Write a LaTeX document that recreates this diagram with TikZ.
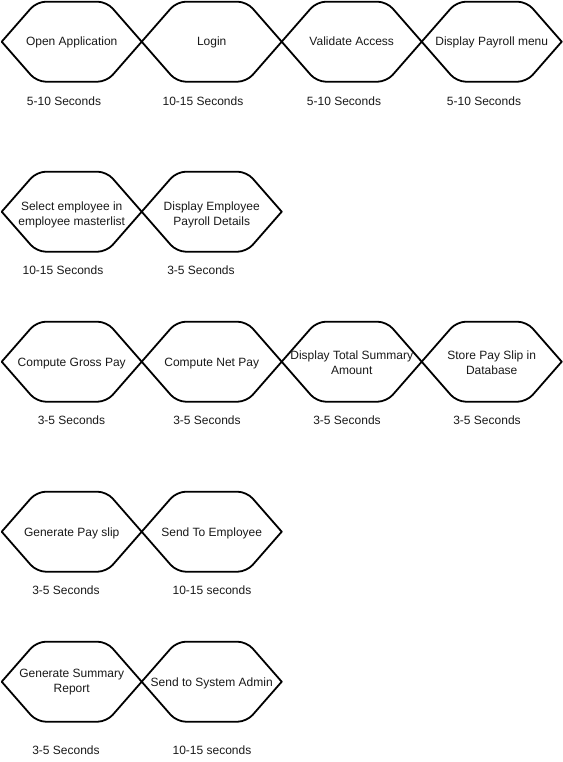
\documentclass[tikz,border=0pt]{standalone}
\usepackage{fontspec}
\setmainfont{Liberation Sans}

% Hexagonal process step: name, centre x, centre y (140 x 80 box)
\newcommand\hexstep[3]{%
  \coordinate (#1) at (#2,#3);
  \draw[hexline] (#2-70,#3) -- (#2-35,#3-40) -- (#2+35,#3-40) -- (#2+70,#3);
  \draw[hexline] (#2-70,#3) -- (#2-35,#3+40) -- (#2+35,#3+40) -- (#2+70,#3);
}

\begin{document}
\begin{tikzpicture}[x=1pt,y=-1pt,
  hexline/.style={draw=black, line width=1.8pt, rounded corners=9pt, line cap=round},
  steptext/.style={font=\fontsize{12}{15}\selectfont, text=black!90, align=center, inner sep=0pt},
  oneline/.style={steptext, anchor=base},
  timelabel/.style={font=\fontsize{12}{15}\selectfont, text=black!90, inner sep=0pt, anchor=base}]
\useasboundingbox (0,0) rectangle (562,762);

% Row 1
\hexstep{h11}{71.7}{41.7}
\hexstep{h12}{211.7}{41.7}
\hexstep{h13}{351.7}{41.7}
\hexstep{h14}{491.7}{41.7}
\node[oneline] (t11) at (71.7,46) {Open Application};
\node[oneline] (t12) at (211.7,46) {Login};
\node[oneline] (t13) at (351.7,46) {Validate Access};
\node[oneline] (t14) at (491.7,46) {Display Payroll menu};
\node[timelabel] (l11) at (64,106) {5-10 Seconds};
\node[timelabel] (l12) at (203,106) {10-15 Seconds};
\node[timelabel] (l13) at (344,106) {5-10 Seconds};
\node[timelabel] (l14) at (484,106) {5-10 Seconds};

% Row 2
\hexstep{h21}{71.7}{211.7}
\hexstep{h22}{211.7}{211.7}
\node[steptext] (t21) at (71.7,214.5) {Select employee in\\employee masterlist};
\node[steptext] (t22) at (211.7,214.5) {Display Employee\\Payroll Details};
\node[timelabel] (l21) at (63,274.3) {10-15 Seconds};
\node[timelabel] (l22) at (201,274.3) {3-5 Seconds};

% Row 3
\hexstep{h31}{71.7}{361.7}
\hexstep{h32}{211.7}{361.7}
\hexstep{h33}{351.7}{361.7}
\hexstep{h34}{491.7}{361.7}
\node[oneline] (t31) at (71.7,366) {Compute Gross Pay};
\node[oneline] (t32) at (211.7,366) {Compute Net Pay};
\node[steptext] (t33) at (351.7,362.5) {Display Total Summary\\Amount};
\node[steptext] (t34) at (491.7,362.5) {Store Pay Slip in\\Database};
\node[timelabel] (l31) at (71.5,424.3) {3-5 Seconds};
\node[timelabel] (l32) at (207,424.3) {3-5 Seconds};
\node[timelabel] (l33) at (347,424.3) {3-5 Seconds};
\node[timelabel] (l34) at (487,424.3) {3-5 Seconds};

% Row 4
\hexstep{h41}{71.7}{531.7}
\hexstep{h42}{211.7}{531.7}
\node[oneline] (t41) at (71.7,536) {Generate Pay slip};
\node[oneline] (t42) at (211.7,536) {Send To Employee};
\node[timelabel] (l41) at (66,594.3) {3-5 Seconds};
\node[timelabel] (l42) at (212,594.3) {10-15 seconds};

% Row 5
\hexstep{h51}{71.7}{681.7}
\hexstep{h52}{211.7}{681.7}
\node[steptext] (t51) at (71.7,682.5) {Generate Summary\\Report};
\node[oneline] (t52) at (211.7,686) {Send to System Admin};
\node[timelabel] (l51) at (66,754.3) {3-5 Seconds};
\node[timelabel] (l52) at (212,754.3) {10-15 seconds};
\end{tikzpicture}
\end{document}
